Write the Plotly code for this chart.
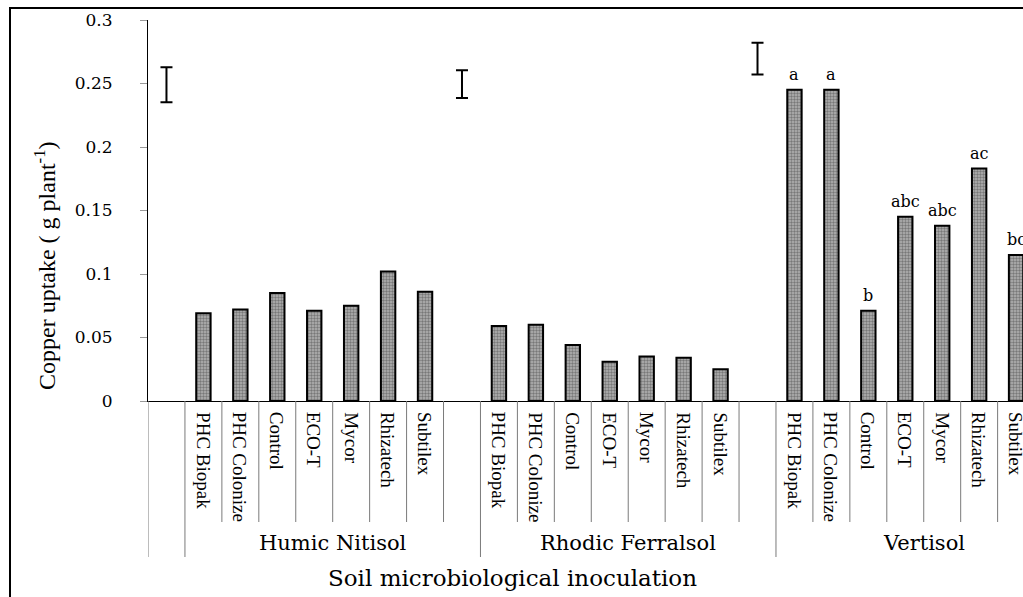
import plotly.graph_objects as go

soils = ["Humic Nitisol", "Rhodic Ferralsol", "Vertisol"]
inoculants = ["PHC Biopak", "PHC Colonize", "Control", "ECO-T", "Mycor", "Rhizatech", "Subtilex"]
humic = [0.069, 0.072, 0.085, 0.071, 0.075, 0.102, 0.086]
rhodic = [0.059, 0.060, 0.044, 0.031, 0.035, 0.034, 0.025]
vertisol = [0.245, 0.245, 0.071, 0.145, 0.138, 0.183, 0.115]
vertisol_letters = ["a", "a", "b", "abc", "abc", "ac", "bc"]
lsd_center = [0.249, 0.2495, 0.2695]
lsd_half = [0.0138, 0.011, 0.0125]
yticks = [0, 0.05, 0.1, 0.15, 0.2, 0.25, 0.3]

series = [humic, rhodic, vertisol]
SLOTS_PER_GROUP = len(inoculants) + 1

# px geometry helpers (figure 1023x597, plot area 148..1023 x 20..401)
L, R, T, B = 148, 1023, 20, 401
PW, PH = R - L, B - T
slot_px = 36.94
xmax = PW / slot_px

def px_to_paper_x(px):
    return (px - L) / PW

def px_to_paper_y(py):
    return (B - py) / PH

bx, by, btext = [], [], []
for g, vals in enumerate(series):
    for i, v in enumerate(vals):
        bx.append(g * SLOTS_PER_GROUP + 1 + i + 0.5)
        by.append(v)
        btext.append(inoculants[i])

fig = go.Figure()
fig.add_trace(go.Bar(
    x=bx, y=by, width=0.39,
    marker=dict(color="#909090",
                line=dict(color="black", width=2),
                pattern=dict(shape=".", size=3, solidity=0.5, fgcolor="#3c3c3c", bgcolor="#b4b4b4")),
    hoverinfo="skip", showlegend=False,
))

# LSD error bars
lx = [g * SLOTS_PER_GROUP + 0.5 for g in range(len(soils))]
fig.add_trace(go.Scatter(
    x=lx, y=lsd_center, mode="markers",
    marker=dict(size=1, color="rgba(0,0,0,0)"),
    error_y=dict(type="data", array=lsd_half, color="black", thickness=2, width=6),
    showlegend=False, hoverinfo="skip",
))

ann = []
# significance letters on Vertisol
for i, (v, t) in enumerate(zip(vertisol, vertisol_letters)):
    ann.append(dict(x=2 * SLOTS_PER_GROUP + 1 + i + 0.5, y=v, xref="x", yref="y",
                    text=t, showarrow=False, yanchor="bottom", yshift=4,
                    font=dict(family="DejaVu Serif", size=16, color="black")))
# category labels
for x, t in zip(bx, btext):
    ann.append(dict(x=x, y=0, xref="x", yref="y", text=t, showarrow=False,
                    textangle=90, yanchor="top", xanchor="center", yshift=-9,
                    font=dict(family="Liberation Serif", size=19, color="black")))
# group labels
for g, s in enumerate(soils):
    cx = g * SLOTS_PER_GROUP + 1 + SLOTS_PER_GROUP / 2
    ann.append(dict(x=cx, y=px_to_paper_y(543), xref="x", yref="paper", text=s,
                    showarrow=False, yanchor="middle",
                    font=dict(family="DejaVu Serif", size=21, color="black")))
# axis titles
ann.append(dict(x=px_to_paper_x(512), y=px_to_paper_y(578), xref="paper", yref="paper",
                text="Soil microbiological inoculation", showarrow=False, yanchor="middle",
                font=dict(family="DejaVu Serif", size=23, color="black")))
ann.append(dict(x=px_to_paper_x(45), y=px_to_paper_y(266), xref="paper", yref="paper",
                text="Copper uptake ( g plant<sup>-1</sup>)", showarrow=False, textangle=-90,
                xanchor="center", yanchor="middle",
                font=dict(family="Liberation Serif", size=24, color="black")))

shapes = []
n_bound = int(xmax) + 1
for k in range(0, n_bound + 1):
    long = (k == 0) or (k % SLOTS_PER_GROUP == 1)
    y1 = px_to_paper_y(557) if long else px_to_paper_y(522)
    shapes.append(dict(type="line", xref="x", yref="paper", x0=k, x1=k, y0=0, y1=y1,
                       line=dict(color="#7a7a7a", width=1)))
# outer chart frame
shapes.append(dict(type="rect", xref="paper", yref="paper",
                   x0=px_to_paper_x(10), x1=px_to_paper_x(1060),
                   y0=px_to_paper_y(8), y1=px_to_paper_y(620),
                   line=dict(color="black", width=2), fillcolor="rgba(0,0,0,0)", layer="below"))

fig.update_layout(
    width=1023, height=597, autosize=False,
    margin=dict(l=L, r=1023 - R, t=T, b=597 - B),
    paper_bgcolor="white", plot_bgcolor="white",
    annotations=ann, shapes=shapes, showlegend=False,
    xaxis=dict(range=[0, xmax], showgrid=False, zeroline=False, showticklabels=False,
               ticks="", showline=True, linecolor="black", linewidth=1),
    yaxis=dict(range=[0, 0.3], tickvals=yticks, ticktext=[f"{v:g}" for v in yticks],
               showgrid=False, zeroline=False, showline=True, linecolor="black", linewidth=1,
               ticks="outside", ticklen=7, tickcolor="#999999", tickwidth=1,
               ticklabelstandoff=24,
               tickfont=dict(family="DejaVu Serif", size=17, color="black")),
)

fig.write_html("out.html")
